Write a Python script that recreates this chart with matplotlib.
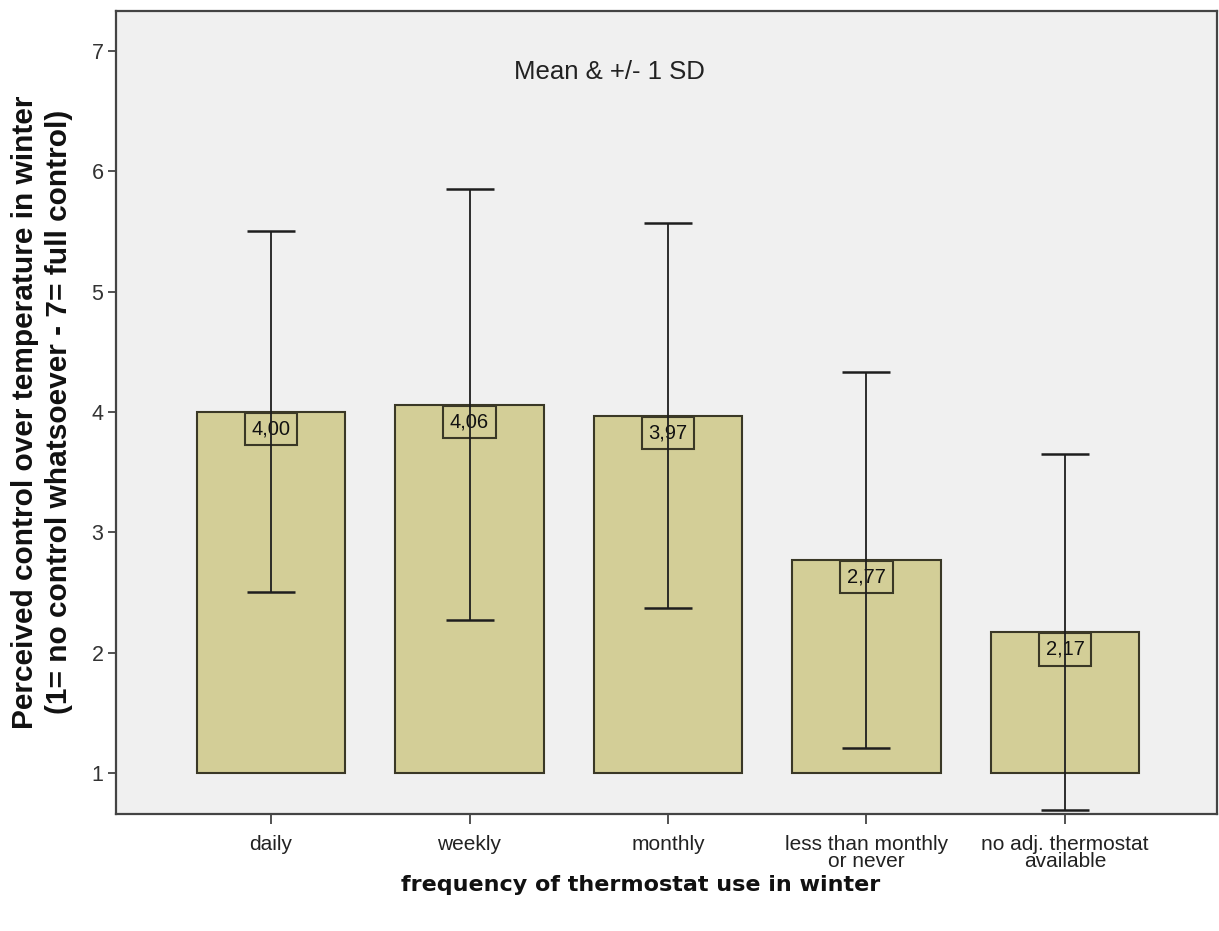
import matplotlib
matplotlib.use("Agg")
import matplotlib.pyplot as plt

# Perceived winter temperature control by thermostat use frequency
categories = ["daily", "weekly", "monthly",
              "less than monthly\nor never", "no adj. thermostat\navailable"]
means = [4.00, 4.06, 3.97, 2.77, 2.17]
sds = [1.50, 1.79, 1.60, 1.56, 1.48]
y_ticks = [1, 2, 3, 4, 5, 6, 7]
baseline = 1

BAR_FILL = "#d3ce97"
BAR_EDGE = "#3a3826"
FRAME = "#444444"
SANS = "Liberation Sans"

W, H = 1219, 931
fig = plt.figure(figsize=(W / 100, H / 100), dpi=100)
fig.patch.set_facecolor("white")
ax = fig.add_axes([116 / W, 1 - 814 / H, (1217 - 116) / W, (814 - 11) / H])
ax.set_facecolor("#f0f0f0")

x = list(range(len(categories)))
heights = [m - baseline for m in means]
ax.bar(x, heights, bottom=baseline, width=0.75, color=BAR_FILL,
       edgecolor=BAR_EDGE, linewidth=1.5, zorder=2)

# mean value boxes hanging from the top of each bar
fs_lab = 14.5
pad = 0.33
for xi, m in zip(x, means):
    ax.annotate(f"{m:.2f}".replace(".", ","), xy=(xi, m),
                xytext=(0, -pad * fs_lab - 0.8), textcoords="offset points",
                ha="center", va="top", fontsize=fs_lab, family=SANS,
                color="#111111",
                bbox=dict(boxstyle=f"square,pad={pad}", fc=BAR_FILL,
                          ec=BAR_EDGE, lw=1.5),
                zorder=3)

ax.errorbar(x, means, yerr=sds, fmt="none", ecolor="#1e1e1e",
            elinewidth=1.3, capsize=17.6, capthick=1.8, zorder=4,
            clip_on=True)

ax.set_xlim(-0.781, 4.766)
ax.set_ylim(0.659, 7.332)
ax.set_yticks(y_ticks)
ax.set_yticklabels([str(t) for t in y_ticks], family=SANS)
ax.set_xticks(x)
ax.set_xticklabels(categories, family=SANS, linespacing=0.85)

for sp in ax.spines.values():
    sp.set_color(FRAME)
    sp.set_linewidth(1.6)

ax.tick_params(axis="y", length=6, width=1.3, color=FRAME,
               labelsize=15.5, labelcolor="#333333", pad=3)
ax.tick_params(axis="x", length=7, width=1.3, color=FRAME,
               labelsize=15, labelcolor="#222222", pad=8)

fig.text(0.5, 1 - 72 / H, "Mean & +/- 1 SD", ha="center", va="center",
         fontsize=18.5, family=SANS, color="#222222")

fig.text(641 / W, 1 - 885 / H, "frequency of thermostat use in winter",
         ha="center", va="center", fontsize=16, family="DejaVu Sans",
         fontweight="bold", color="#111111")

fig.text(25 / W, 1 - 412 / H, "Perceived control over temperature in winter",
         rotation=90, ha="center", va="center", fontsize=21.5, family=SANS,
         fontweight="bold", color="#111111")
fig.text(59 / W, 1 - 412 / H, "(1= no control whatsoever - 7= full control)",
         rotation=90, ha="center", va="center", fontsize=21.5, family=SANS,
         fontweight="bold", color="#111111")

fig.savefig("out.png", dpi=100)
